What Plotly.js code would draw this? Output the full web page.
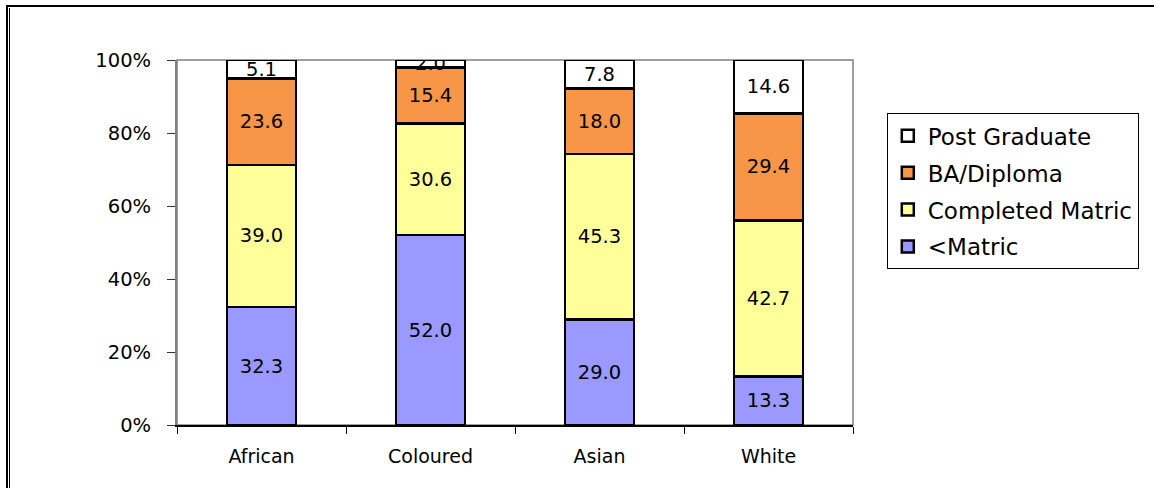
<!DOCTYPE html>
<html>
<head>
<meta charset="utf-8">
<script src="https://cdn.plot.ly/plotly-3.0.1.min.js"></script>
<style>
  html, body { margin: 0; padding: 0; background: #fff; }
  #wrap { position: relative; width: 1154px; height: 488px; overflow: hidden; }
  #chart { position: absolute; left: 0; top: 0; width: 1154px; height: 488px; }
  .ln { position: absolute; background: #000; }
</style>
</head>
<body>
<div id="wrap">
  <div id="chart"></div>
  <div class="ln" style="left:6px; top:5px; width:1148px; height:2px;"></div>
  <div class="ln" style="left:6px; top:5px; width:2px; height:483px;"></div>
  <div class="ln" style="left:9px; top:8px; width:1px; height:480px;"></div>
</div>
<script>
const categories = ['African', 'Coloured', 'Asian', 'White'];
const seriesNames = ['<Matric', 'Completed Matric', 'BA/Diploma', 'Post Graduate'];
const belowMatric = [32.3, 52.0, 29.0, 13.3];
const completedMatric = [39.0, 30.6, 45.3, 42.7];
const baDiploma = [23.6, 15.4, 18.0, 29.4];
const postGraduate = [5.1, 2.0, 7.8, 14.6];
const yTickVals = [0, 20, 40, 60, 80, 100];
const yTickText = ['0%', '20%', '40%', '60%', '80%', '100%'];
const colors = ['#9999FF', '#FFFF99', '#F79646', '#FFFFFF'];

const seriesValues = [belowMatric, completedMatric, baDiploma, postGraduate];
const font = 'DejaVu Sans, Arial, sans-serif';

const traces = seriesValues.map((vals, i) => ({
  type: 'bar',
  name: seriesNames[i],
  legendgroup: 'g' + i,
  legendrank: 4 - i,
  x: categories,
  y: vals,
  width: 0.41,
  text: vals.map(v => v.toFixed(1)),
  textposition: 'inside',
  insidetextanchor: 'middle',
  textangle: 0,
  constraintext: 'none',
  textfont: { family: font, size: 19.5, color: '#000' },
  marker: { color: colors[i], line: { color: '#000', width: 2.5 } },
  hoverinfo: 'skip'
}));

const layout = {
  width: 1154,
  height: 488,
  margin: { l: 177, r: 301, t: 60, b: 63 },
  paper_bgcolor: 'rgba(0,0,0,0)',
  plot_bgcolor: '#fff',
  barmode: 'stack',
  barnorm: 'percent',
  uniformtext: { mode: 'show', minsize: 19.5 },
  font: { family: font, size: 19, color: '#000' },
  showlegend: true,
  legend: {
    x: 1.05, xanchor: 'left',
    y: 0.854, yanchor: 'top',
    traceorder: 'grouped',
    tracegroupgap: 4,
    bordercolor: '#000', borderwidth: 1,
    bgcolor: '#fff',
    font: { family: font, size: 23, color: '#000' }
  },
  xaxis: {
    type: 'category',
    tickson: 'boundaries',
    ticks: 'outside', ticklen: 7, tickcolor: '#000', tickwidth: 1,
    ticklabelstandoff: 14,
    showline: true, linecolor: '#000', linewidth: 1.5,
    showgrid: false, zeroline: false,
    tickfont: { family: font, size: 19, color: '#000' }
  },
  yaxis: {
    range: [0, 100],
    tickvals: yTickVals,
    ticktext: yTickText,
    ticks: 'outside', ticklen: 8, tickcolor: '#333', tickwidth: 1,
    ticklabelstandoff: 12,
    showline: true, linecolor: '#808080', linewidth: 2,
    showgrid: false, zeroline: false,
    tickfont: { family: font, size: 19.5, color: '#000' }
  },
  shapes: [{
    type: 'rect', xref: 'paper', yref: 'paper', x0: 0, x1: 1, y0: 0, y1: 1,
    line: { color: '#808080', width: 1.5 }, layer: 'below'
  }]
};

Plotly.newPlot('chart', traces, layout, { displayModeBar: false, staticPlot: true });
</script>
</body>
</html>
